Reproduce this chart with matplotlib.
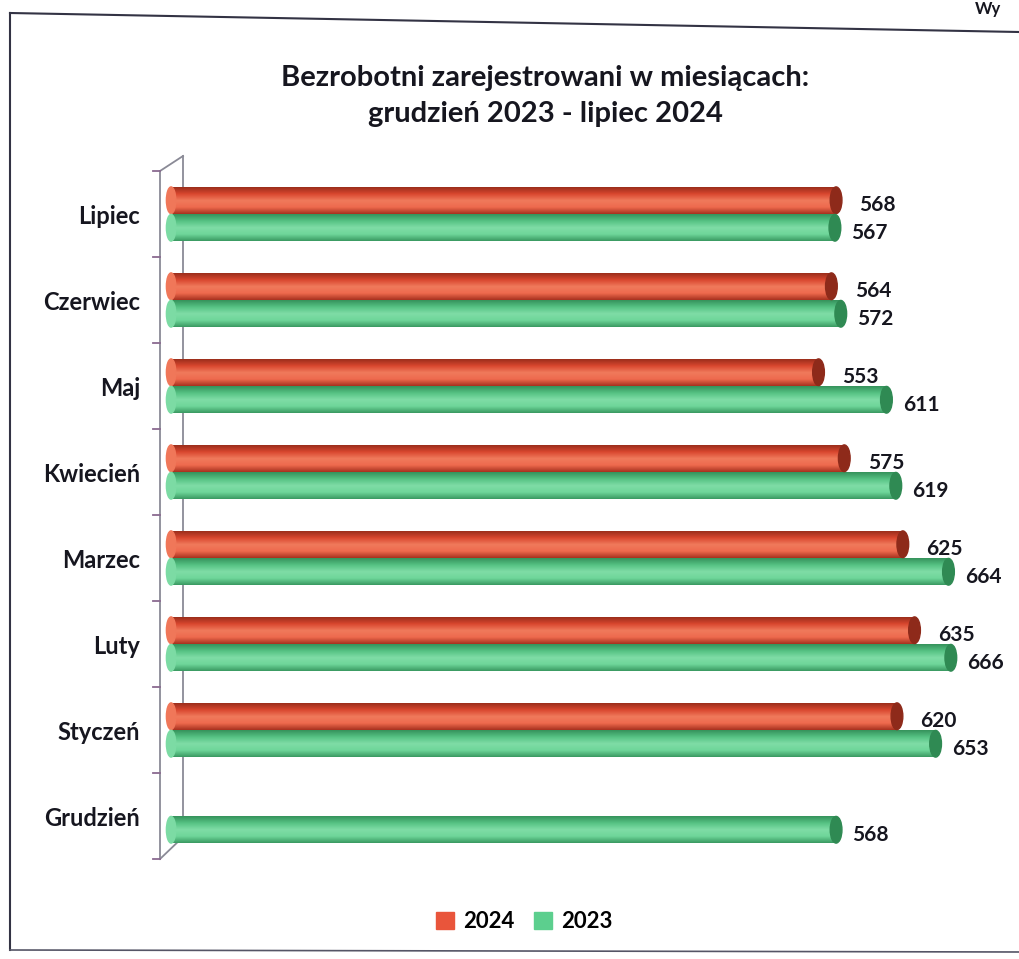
"bar chart: bezrobotni zarejestrowani, grudzien 2023 - lipiec 2024"

import numpy as np
import matplotlib.pyplot as plt
from matplotlib.colors import LinearSegmentedColormap
from matplotlib.patches import Patch, Ellipse
from matplotlib.lines import Line2D

plt.rcParams['font.family'] = ['Lato', 'DejaVu Sans']

months = ['Grudzień', 'Styczeń', 'Luty', 'Marzec', 'Kwiecień', 'Maj', 'Czerwiec', 'Lipiec']
val_2024 = [None, 620, 635, 625, 575, 553, 564, 568]
val_2023 = [568, 653, 666, 664, 619, 611, 572, 567]

red = '#e9553b'
green = '#5ccf8e'
red_cmap = LinearSegmentedColormap.from_list('r', ['#a8321f', '#ee6a4e', '#f07a5c', '#d9472f', '#9c2e1c'])
green_cmap = LinearSegmentedColormap.from_list('g', ['#3a9a62', '#6fd69a', '#7fdca6', '#55c283', '#36935c'])
txt = '#16161f'

W, H = 1019, 959
AX_L, AX_R, AX_T, AX_B = 150, 1000, 171, 859
fig = plt.figure(figsize=(W / 100, H / 100), dpi=100)
ax = fig.add_axes([AX_L / W, (H - AX_B) / H, (AX_R - AX_L) / W, (AX_B - AX_T) / H])


def fx(px):
    return (px - AX_L) / (AX_R - AX_L)


def fy(py):
    return (AX_B - py) / (AX_B - AX_T)


bh = 0.31
off = 0.16
grad = np.linspace(0, 1, 64).reshape(-1, 1)


def cyl(y, v, cmap, edge):
    b = ax.barh(y, v, height=bh, color=cmap(0.5), linewidth=0, zorder=3)[0]
    im = ax.imshow(grad, cmap=cmap, aspect='auto', extent=(0, v, y - bh / 2, y + bh / 2),
                   origin='lower', zorder=3.1)
    im.set_clip_path(b)
    ax.add_patch(Ellipse((v, y), 10, bh, color=edge, zorder=3.2))
    ax.add_patch(Ellipse((0, y), 8, bh, color=cmap(0.45), zorder=3.2))


for i, m in enumerate(months):
    v4, v3 = val_2024[i], val_2023[i]
    if v4 is not None:
        cyl(i + off, v4, red_cmap, '#8e2a1a')
        ax.text(v4 + 20, i + off - 0.05, str(v4), va='center', ha='left',
                fontsize=15, fontweight='bold', color=txt)
    cyl(i - off, v3, green_cmap, '#2f8a53')
    ax.text(v3 + 14, i - off - 0.06, str(v3), va='center', ha='left',
            fontsize=15, fontweight='bold', color=txt)

ax.set_xlim(-18, 708)
ax.set_ylim(-0.5, 7.5)
ax.set_xticks([])
ax.set_yticks(range(len(months)))
ax.set_yticklabels(months, fontsize=17, fontweight='bold', color=txt)
ax.tick_params(axis='y', length=0, pad=7)
for s in ax.spines.values():
    s.set_visible(False)

# 3d axis wall
wall = dict(transform=ax.transAxes, color='#8a8a96', lw=1.3, clip_on=False, zorder=1)
ax.plot([fx(160), fx(160)], [fy(171), fy(859)], **wall)
ax.plot([fx(183), fx(183)], [fy(156), fy(837)], **wall)
ax.plot([fx(160), fx(183)], [fy(171), fy(156)], **wall)
ax.plot([fx(160), fx(183)], [fy(859), fy(837)], **wall)
for k in range(len(months) + 1):
    yk = k / len(months)
    ax.plot([fx(153), fx(160)], [yk, yk], transform=ax.transAxes, color='#8a6a90', lw=1.3,
            clip_on=False, zorder=1)

fig.text(545 / W, 1 - 96 / H, 'Bezrobotni zarejestrowani w miesiącach:\ngrudzień 2023 - lipiec 2024',
         ha='center', va='center', fontsize=21, fontweight='bold', color=txt, linespacing=1.45)

handles = [Patch(color=red), Patch(color=green)]
fig.legend(handles, ['2024', '2023'], loc='center', bbox_to_anchor=(524 / W, 1 - 922 / H), ncol=2,
           frameon=False, prop={'size': 16, 'weight': 'bold'}, handlelength=0.8, handleheight=0.8,
           handletextpad=0.4, columnspacing=0.9)

# chart frame
fig.add_artist(Line2D([10 / W, 10 / W], [1 - 13 / H, 1 - 950 / H], color='#333344', lw=1.5))
fig.add_artist(Line2D([10 / W, 1.0], [1 - 13 / H, 1 - 32 / H], color='#333344', lw=1.5))
fig.add_artist(Line2D([10 / W, 1.0], [1 - 950 / H, 1 - 952 / H], color='#555566', lw=1.2))
fig.text(975 / W, 1 - 1 / H, 'Wy', ha='left', va='top', fontsize=12, fontweight='bold', color=txt)

fig.savefig('out.png', dpi=100)
